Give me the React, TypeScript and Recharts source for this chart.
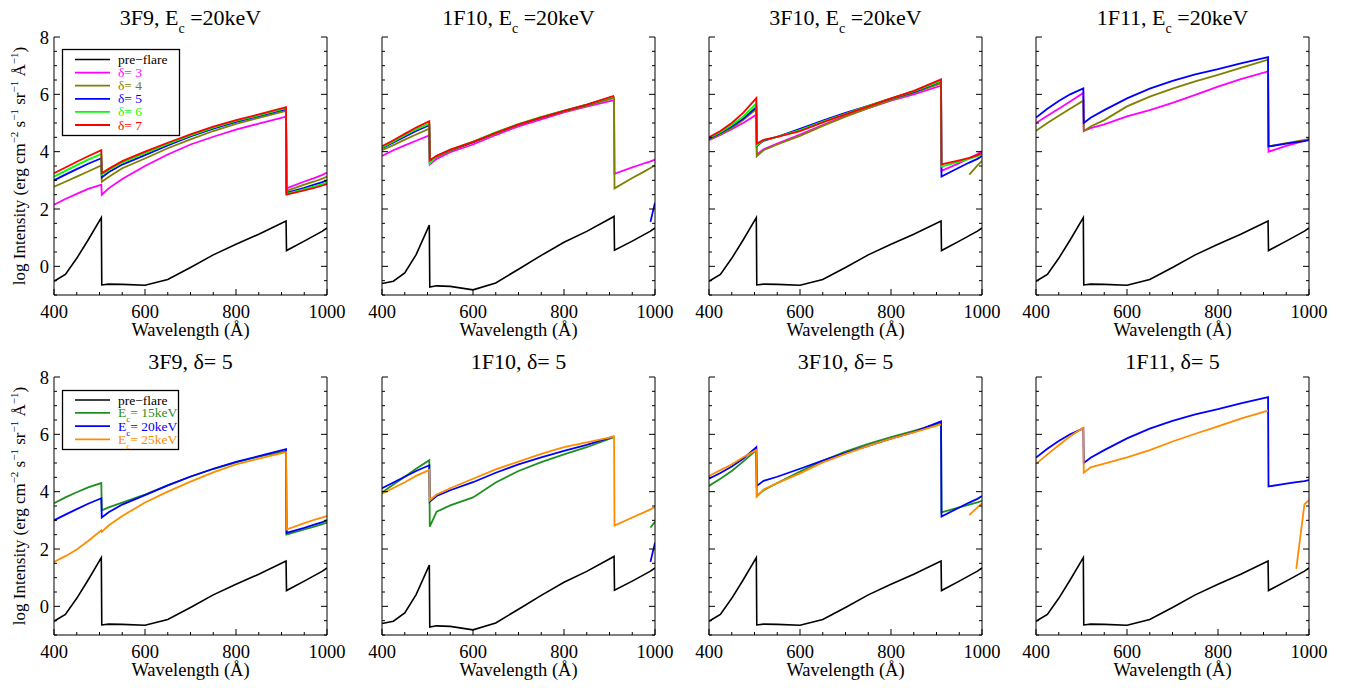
import { LineChart, Line, XAxis, YAxis } from 'recharts'

const FONT = '"Liberation Serif", "Times New Roman", serif'

// wavelength grid (Å) shared by every curve
const wavelength = [400, 425, 450, 475, 504, 505, 520, 550, 600, 650, 700, 750, 800, 850, 910, 911, 950, 972, 990, 1000]
const xTicks = [400, 450, 500, 550, 600, 650, 700, 750, 800, 850, 900, 950, 1000]
const yTicks = [-1, -0.5, 0, 0.5, 1, 1.5, 2, 2.5, 3, 3.5, 4, 4.5, 5, 5.5, 6, 6.5, 7, 7.5, 8]

// pre-flare spectra
const preFlareA = [-0.52, -0.28, 0.28, 0.92, 1.7, -0.65, -0.62, -0.63, -0.66, -0.46, -0.04, 0.4, 0.77, 1.12, 1.58, 0.55, 0.88, 1.07, 1.23, 1.34]
const preFlareB = [-0.6, -0.52, -0.23, 0.41, 1.44, -0.72, -0.68, -0.7, -0.82, -0.58, -0.1, 0.38, 0.84, 1.22, 1.74, 0.56, 0.88, 1.07, 1.23, 1.34]

// 3F9, Ec = 20 keV
const f3F9_d3 = [2.15, 2.35, 2.53, 2.7, 2.85, 2.5, 2.72, 3.05, 3.5, 3.9, 4.25, 4.52, 4.77, 4.98, 5.22, 2.72, 2.96, 3.08, 3.19, 3.27]
const f3F9_d4 = [2.78, 2.95, 3.13, 3.31, 3.52, 2.95, 3.12, 3.42, 3.76, 4.12, 4.43, 4.72, 4.97, 5.18, 5.42, 2.63, 2.85, 2.96, 3.06, 3.13]
const f3F9_d5 = [3.0, 3.2, 3.39, 3.58, 3.77, 3.1, 3.28, 3.55, 3.88, 4.22, 4.53, 4.8, 5.04, 5.24, 5.48, 2.56, 2.74, 2.85, 2.94, 3.0]
const f3F9_d6 = [3.13, 3.33, 3.53, 3.72, 3.92, 3.2, 3.35, 3.62, 3.95, 4.27, 4.57, 4.84, 5.07, 5.27, 5.52, 2.53, 2.69, 2.79, 2.87, 2.92]
const f3F9_d7 = [3.25, 3.45, 3.65, 3.84, 4.05, 3.25, 3.4, 3.67, 4.0, 4.31, 4.6, 4.87, 5.1, 5.3, 5.55, 2.5, 2.65, 2.74, 2.82, 2.87]

// 1F10, Ec = 20 keV
const f1F10_d3 = [3.85, 4.05, 4.22, 4.38, 4.57, 3.55, 3.75, 3.98, 4.25, 4.58, 4.88, 5.13, 5.37, 5.57, 5.8, 3.23, 3.45, 3.57, 3.66, 3.72]
const f1F10_d4 = [4.05, 4.23, 4.42, 4.6, 4.8, 3.62, 3.82, 4.03, 4.32, 4.63, 4.93, 5.18, 5.4, 5.6, 5.88, 2.72, 3.08, 3.27, 3.43, 3.53]
const f1F10_d5 = [4.12, 4.32, 4.52, 4.72, 4.92, 3.65, 3.85, 4.05, 4.33, 4.66, 4.95, 5.2, 5.42, 5.63, 5.93, null, null, null, 1.55, 2.22]
const f1F10_d6 = [4.15, 4.36, 4.57, 4.78, 4.98, 3.58, 3.85, 4.06, 4.35, 4.67, 4.96, 5.21, 5.43, 5.64, 5.93, null, null, null, null, null]
const f1F10_d7 = [4.19, 4.4, 4.62, 4.84, 5.06, 3.7, 3.86, 4.07, 4.34, 4.66, 4.95, 5.2, 5.42, 5.64, 5.95, null, null, null, null, null]

// 3F10, Ec = 20 keV
const f3F10_d3 = [4.4, 4.58, 4.78, 5.0, 5.29, 3.9, 4.08, 4.28, 4.6, 4.93, 5.25, 5.52, 5.78, 6.0, 6.3, 3.33, 3.6, 3.77, 3.92, 4.02]
const f3F10_d4 = [4.42, 4.6, 4.82, 5.1, 5.49, 3.84, 4.05, 4.25, 4.55, 4.9, 5.22, 5.52, 5.8, 6.05, 6.38, null, null, 3.2, 3.52, 3.68]
const f3F10_d5 = [4.45, 4.65, 4.88, 5.15, 5.55, 4.2, 4.38, 4.52, 4.8, 5.08, 5.35, 5.6, 5.85, 6.08, 6.45, 3.13, 3.45, 3.62, 3.75, 3.85]
const f3F10_d6 = [4.48, 4.68, 4.93, 5.22, 5.68, 4.22, 4.4, 4.52, 4.75, 5.05, 5.32, 5.6, 5.86, 6.1, 6.47, 3.48, 3.65, 3.75, 3.84, 3.9]
const f3F10_d7 = [4.5, 4.72, 5.0, 5.35, 5.87, 4.28, 4.41, 4.52, 4.72, 5.02, 5.3, 5.58, 5.86, 6.12, 6.52, 3.56, 3.7, 3.78, 3.88, 3.95]

// 1F11, Ec = 20 keV
const f1F11_d3 = [5.0, 5.25, 5.5, 5.75, 6.05, 4.72, 4.82, 4.95, 5.23, 5.45, 5.7, 5.98, 6.27, 6.53, 6.8, 4.0, 4.2, 4.3, 4.38, 4.45]
const f1F11_d4 = [4.73, 5.0, 5.25, 5.5, 5.78, 4.72, 4.88, 5.1, 5.58, 5.92, 6.2, 6.45, 6.68, 6.92, 7.21, 4.18, 4.3, 4.36, 4.41, 4.44]
const f1F11_d5 = [5.19, 5.5, 5.77, 6.0, 6.21, 5.0, 5.18, 5.45, 5.86, 6.2, 6.47, 6.7, 6.88, 7.08, 7.3, 4.18, 4.28, 4.33, 4.37, 4.4]

// delta = 5, Ec = 15 and 25 keV (20 keV is the delta = 5 curve above)
const f3F9_e15 = [3.6, 3.8, 3.98, 4.15, 4.3, 3.35, 3.45, 3.62, 3.9, 4.22, 4.52, 4.79, 5.02, 5.22, 5.42, 2.5, 2.68, 2.78, 2.87, 2.92]
const f3F9_e25 = [1.55, 1.75, 1.98, 2.28, 2.65, 2.6, 2.82, 3.15, 3.62, 4.0, 4.35, 4.67, 4.95, 5.15, 5.38, 2.68, 2.9, 3.02, 3.1, 3.15]
const f1F10_e15 = [3.97, 4.25, 4.52, 4.8, 5.1, 2.78, 3.3, 3.52, 3.8, 4.32, 4.72, 5.03, 5.3, 5.55, 5.9, null, null, null, 2.75, 2.95]
const f1F10_e25 = [3.93, 4.13, 4.33, 4.55, 4.76, 3.7, 3.9, 4.12, 4.45, 4.78, 5.05, 5.32, 5.55, 5.72, 5.92, 2.82, 3.1, 3.25, 3.38, 3.47]
const f3F10_e15 = [4.2, 4.45, 4.72, 5.05, 5.45, 3.85, 4.05, 4.3, 4.7, 5.08, 5.4, 5.67, 5.9, 6.12, 6.4, 3.28, 3.45, 3.55, 3.63, 3.68]
const f3F10_e25 = [4.55, 4.75, 4.95, 5.2, 5.45, 3.82, 4.08, 4.3, 4.64, 5.02, 5.32, 5.6, 5.85, 6.07, 6.35, null, null, 3.18, 3.45, 3.59]
const f1F11_e25 = [4.97, 5.3, 5.62, 5.93, 6.23, 4.66, 4.85, 4.98, 5.2, 5.45, 5.75, 6.02, 6.28, 6.55, 6.83, null, null, 1.31, 3.56, 3.7]

const deltaNames = ['δ= 3', 'δ= 4', 'δ= 5', 'δ= 6', 'δ= 7']
const deltaColors = ['#ff00ff', '#808000', '#0000ff', '#00ff00', '#ff0000']
const ecNames = ['15keV', '20keV', '25keV']
const ecColors = ['#1f8f1f', '#0000ff', '#ff8c00']

const panelNames = ['3F9', '1F10', '3F10', '1F11']
const plotLefts = [54, 382, 709, 1036]
const PLOT_W = 273
const PLOT_H = 258
const rowTops = [0, 340]

type Series = { values: (number | null)[]; color: string }

const topRow: { pre: number[]; lines: Series[] }[] = [
  { pre: preFlareA, lines: [f3F9_d3, f3F9_d4, f3F9_d5, f3F9_d6, f3F9_d7].map((v, i) => ({ values: v, color: deltaColors[i] })) },
  { pre: preFlareB, lines: [f1F10_d3, f1F10_d4, f1F10_d5, f1F10_d6, f1F10_d7].map((v, i) => ({ values: v, color: deltaColors[i] })) },
  { pre: preFlareA, lines: [f3F10_d3, f3F10_d4, f3F10_d5, f3F10_d6, f3F10_d7].map((v, i) => ({ values: v, color: deltaColors[i] })) },
  { pre: preFlareA, lines: [f1F11_d3, f1F11_d4, f1F11_d5].map((v, i) => ({ values: v, color: deltaColors[i] })) },
]

const bottomRow: { pre: number[]; lines: Series[] }[] = [
  { pre: preFlareA, lines: [{ values: f3F9_e15, color: ecColors[0] }, { values: f3F9_d5, color: ecColors[1] }, { values: f3F9_e25, color: ecColors[2] }] },
  { pre: preFlareB, lines: [{ values: f1F10_e15, color: ecColors[0] }, { values: f1F10_d5, color: ecColors[1] }, { values: f1F10_e25, color: ecColors[2] }] },
  { pre: preFlareA, lines: [{ values: f3F10_e15, color: ecColors[0] }, { values: f3F10_d5, color: ecColors[1] }, { values: f3F10_e25, color: ecColors[2] }] },
  { pre: preFlareA, lines: [{ values: f1F11_d5, color: ecColors[1] }, { values: f1F11_e25, color: ecColors[2] }] },
]

const isMajorX = (v: number) => v % 200 === 0
const isMajorY = (v: number) => v % 2 === 0

function bottomTick(props: any) {
  const { x, y, payload } = props
  const major = isMajorX(payload.value)
  return (
    <g>
      <line x1={x} y1={y} x2={x} y2={y - (major ? 6 : 3)} stroke="#000" />
      {major && (
        <text x={x} y={y + 23} textAnchor="middle" fontSize={18.5} fontFamily="Liberation Serif" fill="#000">
          {payload.value}
        </text>
      )}
    </g>
  )
}

function topTick(props: any) {
  const { x, y, payload } = props
  return <line x1={x} y1={y} x2={x} y2={y + (isMajorX(payload.value) ? 6 : 3)} stroke="#000" />
}

function leftTick(showLabel: boolean) {
  return (props: any) => {
    const { x, y, payload } = props
    const major = isMajorY(payload.value)
    return (
      <g>
        <line x1={x} y1={y} x2={x + (major ? 6 : 3)} y2={y} stroke="#000" />
        {showLabel && major && (
          <text x={x - 5} y={y + 6.5} textAnchor="end" fontSize={18.5} fontFamily="Liberation Serif" fill="#000">
            {payload.value}
          </text>
        )}
      </g>
    )
  }
}

function rightTick(props: any) {
  const { x, y, payload } = props
  return <line x1={x} y1={y} x2={x - (isMajorY(payload.value) ? 6 : 3)} y2={y} stroke="#000" />
}

function Panel({ left, top, pre, lines, first }: { left: number; top: number; pre: number[]; lines: Series[]; first: boolean }) {
  const data = wavelength.map((w, i) => {
    const row: Record<string, number | null> = { w, pre: pre[i] }
    lines.forEach((l, j) => {
      row['s' + j] = l.values[i]
    })
    return row
  })
  return (
    <div style={{ position: 'absolute', left: left - 50, top, fontFamily: FONT }}>
      <LineChart
        width={50 + PLOT_W + 24}
        height={37 + PLOT_H + 45}
        data={data}
        margin={{ top: 37, right: 0, bottom: 0, left: 0 }}
        style={{ fontFamily: FONT }}
      >
        <XAxis
          xAxisId="b"
          dataKey="w"
          type="number"
          domain={[400, 1000]}
          ticks={xTicks}
          interval={0}
          allowDataOverflow
          height={45}
          tickSize={0}
          tickMargin={0}
          tickLine={false}
          tick={bottomTick}
          axisLine={{ stroke: '#000' }}
          label={{ value: 'Wavelength (Å)', position: 'insideBottom', offset: 4, fontSize: 18.5, fontFamily: 'Liberation Serif', fill: '#000' }}
        />
        <XAxis
          xAxisId="t"
          orientation="top"
          dataKey="w"
          type="number"
          domain={[400, 1000]}
          ticks={xTicks}
          interval={0}
          allowDataOverflow
          height={0}
          tickSize={0}
          tickMargin={0}
          tickLine={false}
          tick={topTick}
          axisLine={{ stroke: '#000' }}
        />
        <YAxis
          yAxisId="l"
          type="number"
          domain={[-1, 8]}
          ticks={yTicks}
          interval={0}
          allowDataOverflow
          width={50}
          tickSize={0}
          tickMargin={0}
          tickLine={false}
          tick={leftTick(first)}
          axisLine={{ stroke: '#000' }}
        />
        <YAxis
          yAxisId="r"
          orientation="right"
          type="number"
          domain={[-1, 8]}
          ticks={yTicks}
          interval={0}
          allowDataOverflow
          width={24}
          tickSize={0}
          tickMargin={0}
          tickLine={false}
          tick={rightTick}
          axisLine={{ stroke: '#000' }}
        />
        <Line xAxisId="b" yAxisId="l" type="linear" dataKey="pre" stroke="#000" strokeWidth={1.6} dot={false} isAnimationActive={false} />
        {lines.map((l, j) => (
          <Line
            key={j}
            xAxisId="b"
            yAxisId="l"
            type="linear"
            dataKey={'s' + j}
            stroke={l.color}
            strokeWidth={1.8}
            dot={false}
            connectNulls={false}
            isAnimationActive={false}
          />
        ))}
      </LineChart>
    </div>
  )
}

function YLabel({ cy }: { cy: number }) {
  return (
    <text transform={`translate(25,${cy}) rotate(-90)`} textAnchor="middle" fontSize={17} fill="#000">
      log Intensity (erg cm<tspan dy={-7} fontSize={11}>−2</tspan>
      <tspan dy={7}> s</tspan>
      <tspan dy={-7} fontSize={11}>−1</tspan>
      <tspan dy={7}> sr</tspan>
      <tspan dy={-7} fontSize={11}>−1</tspan>
      <tspan dy={7}> Å</tspan>
      <tspan dy={-7} fontSize={11}>−1</tspan>
      <tspan dy={7}>)</tspan>
    </text>
  )
}

export default function App() {
  const topLegendRows = [{ name: 'pre−flare', color: '#000' }, ...deltaNames.map((n, i) => ({ name: n, color: deltaColors[i] }))]
  return (
    <div style={{ position: 'absolute', left: 0, top: 0, width: 1346, height: 688, background: '#fff', fontFamily: FONT }}>
      {topRow.map((p, i) => (
        <Panel key={'t' + i} left={plotLefts[i]} top={rowTops[0]} pre={p.pre} lines={p.lines} first={i === 0} />
      ))}
      {bottomRow.map((p, i) => (
        <Panel key={'b' + i} left={plotLefts[i]} top={rowTops[1]} pre={p.pre} lines={p.lines} first={i === 0} />
      ))}
      <svg width={1346} height={688} style={{ position: 'absolute', left: 0, top: 0, pointerEvents: 'none', fontFamily: FONT }}>
        {panelNames.map((n, i) => (
          <text key={'tt' + i} x={plotLefts[i] + PLOT_W / 2} y={25} textAnchor="middle" fontSize={22} fill="#000">
            {n}, E<tspan dy={8} fontSize={14}>c</tspan>
            <tspan dy={-8}> =20keV</tspan>
          </text>
        ))}
        {panelNames.map((n, i) => (
          <text key={'bt' + i} x={plotLefts[i] + PLOT_W / 2} y={369} textAnchor="middle" fontSize={22} fill="#000">
            {n}, δ= 5
          </text>
        ))}
        <YLabel cy={166} />
        <YLabel cy={506} />

        {/* top legend */}
        <rect x={62.5} y={49.5} width={117} height={86} fill="#fff" stroke="#000" strokeWidth={1.3} />
        {topLegendRows.map((r, k) => {
          const cy = 59.5 + k * 13.1
          return (
            <g key={'tl' + k}>
              <line x1={75} x2={110} y1={cy} y2={cy} stroke={r.color} strokeWidth={k === 0 ? 1.3 : 1.8} />
              <text x={118} y={cy + 4.5} fontSize={13.5} fill={r.color}>
                {r.name}
              </text>
            </g>
          )
        })}

        {/* bottom legend */}
        <rect x={62.5} y={390.5} width={116} height={59} fill="#fff" stroke="#000" strokeWidth={1.3} />
        <line x1={75} x2={110} y1={400} y2={400} stroke="#000" strokeWidth={1.3} />
        <text x={118} y={404.5} fontSize={13.5} fill="#000">
          pre−flare
        </text>
        {ecNames.map((n, k) => {
          const cy = 412.9 + k * 13.2
          return (
            <g key={'bl' + k}>
              <line x1={75} x2={110} y1={cy} y2={cy} stroke={ecColors[k]} strokeWidth={1.8} />
              <text x={118} y={cy + 4.5} fontSize={13.5} fill={ecColors[k]}>
                E<tspan dy={5} fontSize={9}>c</tspan>
                <tspan dy={-5}>= {n}</tspan>
              </text>
            </g>
          )
        })}
      </svg>
    </div>
  )
}
